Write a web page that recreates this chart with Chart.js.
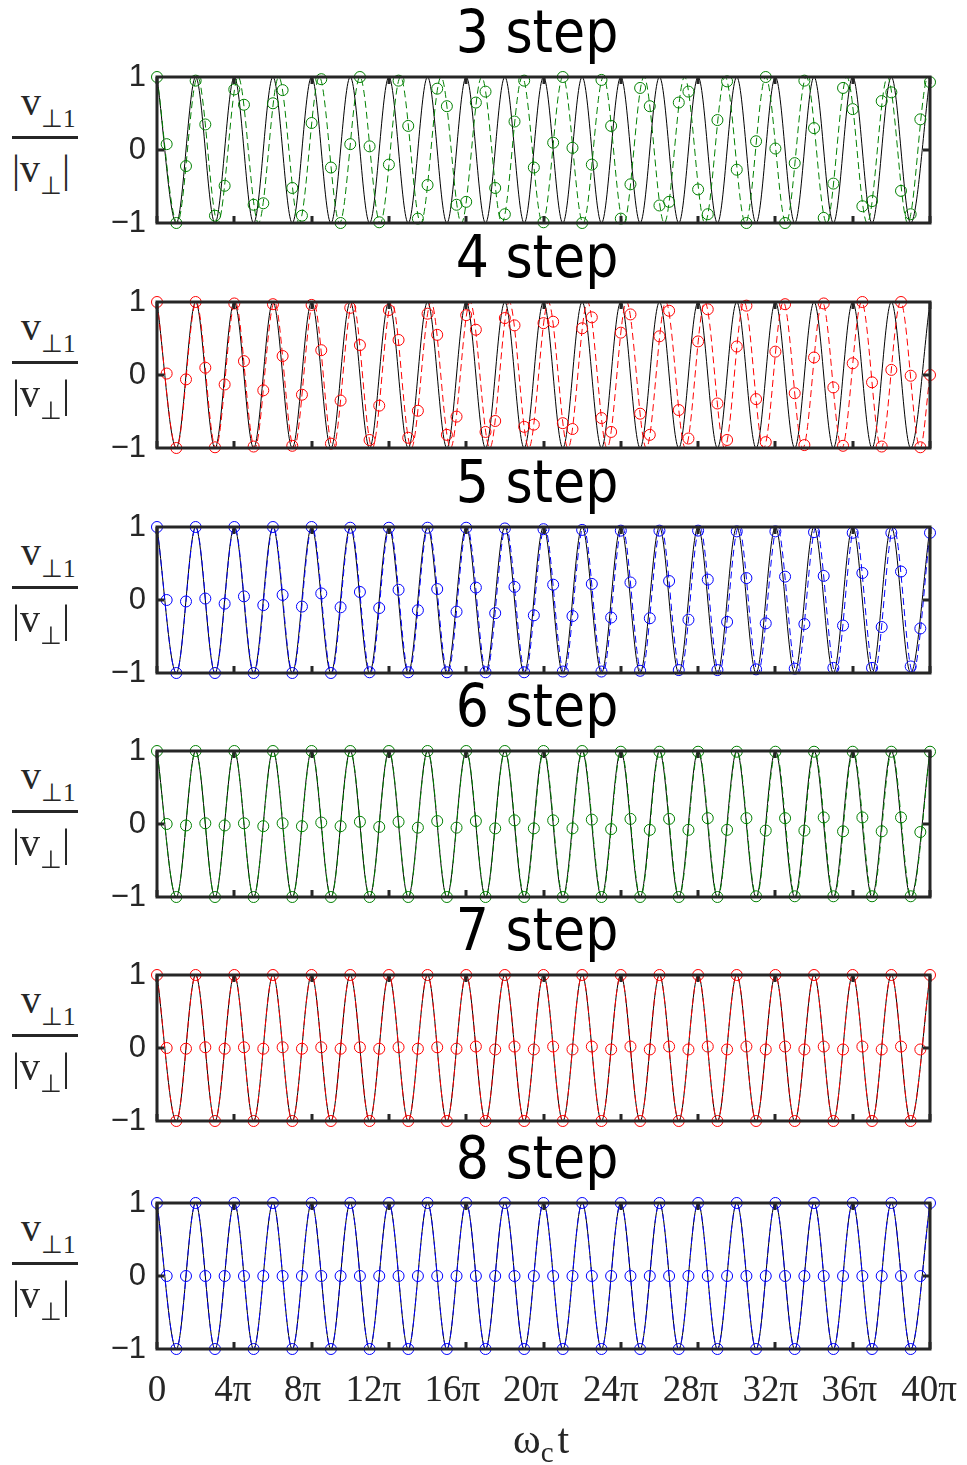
<!DOCTYPE html>
<html>
<head>
<meta charset="utf-8">
<script src="https://cdn.jsdelivr.net/npm/chart.js@4.4.1/dist/chart.umd.min.js"></script>
<style>
html,body{margin:0;padding:0;background:#fff;width:967px;height:1465px;overflow:hidden;}
body{position:relative;}
canvas{position:absolute;left:0;}
.title{position:absolute;left:0;width:1074px;text-align:center;font-family:'DejaVu Sans Condensed','DejaVu Sans',sans-serif;font-stretch:condensed;font-size:58px;line-height:58px;color:#000;white-space:nowrap;}
.frac{position:absolute;font-family:'Liberation Serif','Times New Roman',serif;font-size:40px;line-height:40px;color:#262626;white-space:nowrap;}
.sub{font-size:25px;vertical-align:-12px;}
.bar{position:absolute;left:12px;width:66px;height:3px;background:#262626;}
.xlab{position:absolute;font-family:'Liberation Serif','Times New Roman',serif;font-size:42px;line-height:42px;color:#262626;white-space:nowrap;}
.xlab .sub{font-size:29px;vertical-align:-9px;margin-right:4px;}
</style>
</head>
<body>
<script>
// ---------- data (t in units of pi) ----------
const panelTitles = ['3 step', '4 step', '5 step', '6 step', '7 step', '8 step'];
const tickValues = [0, 4, 8, 12, 16, 20, 24, 28, 32, 36, 40];
const tickLabels = ['0', '4π', '8π', '12π', '16π', '20π', '24π', '28π', '32π', '36π', '40π'];
// where the reference prints each tick label (it is not exactly under its tick)
const tickLabelPositions = [0, 3.92, 7.54, 11.2, 15.28, 19.35, 23.48, 27.61, 31.74, 35.82, 39.95];
const yTickValues = [-1, 0, 1];
const yTickLabels = ['−1', '0', '1'];

// exact solution: extrema of cos(ω_c t)
const exactT = [0,1,2,3,4,5,6,7,8,9,10,11,12,13,14,15,16,17,18,19,20,21,22,23,24,25,26,27,28,29,30,31,32,33,34,35,36,37,38,39,40];
const exactV = [1,-1,1,-1,1,-1,1,-1,1,-1,1,-1,1,-1,1,-1,1,-1,1,-1,1,-1,1,-1,1,-1,1,-1,1,-1,1,-1,1,-1,1,-1,1,-1,1,-1,1];

// numerical (dashed) curves: extrema positions
const line3T = [0,1.05,2.1,3.15,4.2,5.25,6.3,7.35,8.4,9.45,10.5,11.55,12.6,13.65,14.7,15.75,16.8,17.85,18.9,19.95,21,22.05,23.1,24.15,25.2,26.25,27.3,28.35,29.4,30.45,31.5,32.55,33.6,34.65,35.7,36.75,37.8,38.85,39.9,40];
const line3V = [1,-1,1,-1,1,-1,1,-1,1,-1,1,-1,1,-1,1,-1,1,-1,1,-1,1,-1,1,-1,1,-1,1,-1,1,-1,1,-1,1,-1,1,-1,1,-1,1,0.95];
const line4T = [0,1.01,2.03,3.04,4.05,5.06,6.08,7.09,8.1,9.11,10.13,11.14,12.15,13.16,14.18,15.19,16.2,17.22,18.23,19.24,20.25,21.27,22.28,23.29,24.3,25.32,26.33,27.34,28.35,29.37,30.38,31.39,32.41,33.42,34.43,35.44,36.46,37.47,38.48,39.49,40];
const line4V = [1,-1,1,-1,1,-1,1,-1,1,-1,1,-1,1,-1,1,-1,1,-1,1,-1,1,-1,1,-1,1,-1,1,-1,1,-1,1,-1,1,-1,1,-1,1,-1,1,-1,0];
const line5T = [0,1,2.01,3.01,4.01,5.02,6.02,7.02,8.03,9.03,10.03,11.04,12.04,13.04,14.04,15.05,16.05,17.05,18.06,19.06,20.06,21.07,22.07,23.07,24.08,25.08,26.08,27.09,28.09,29.09,30.1,31.1,32.1,33.11,34.11,35.11,36.11,37.12,38.12,39.12,40];
const line5V = [1,-1,1,-1,1,-1,1,-1,1,-1,1,-1,1,-1,1,-1,1,-1,1,-1,1,-1,1,-1,1,-1,1,-1,1,-1,1,-1,1,-1,1,-1,1,-1,1,-1,0.92];
const line6T = [0,1,2,3,4,5,6.01,7.01,8.01,9.01,10.01,11.01,12.01,13.01,14.01,15.01,16.01,17.01,18.01,19.02,20.02,21.02,22.02,23.02,24.02,25.02,26.02,27.02,28.02,29.02,30.02,31.02,32.03,33.03,34.03,35.03,36.03,37.03,38.03,39.03,40];
const line6V = [1,-1,1,-1,1,-1,1,-1,1,-1,1,-1,1,-1,1,-1,1,-1,1,-1,1,-1,1,-1,1,-1,1,-1,1,-1,1,-1,1,-1,1,-1,1,-1,1,-1,0.99];
const line7T = [0,1,2,3,4,5,6,7,8,9,10,11,12,13,14,15,16,17,18,19,20,21,22,23,24,25,26,27,28,29,30,31,32,33,34,35,36,37,38,39,40];
const line7V = [1,-1,1,-1,1,-1,1,-1,1,-1,1,-1,1,-1,1,-1,1,-1,1,-1,1,-1,1,-1,1,-1,1,-1,1,-1,1,-1,1,-1,1,-1,1,-1,1,-1,1];
const line8T = [0,1,2,3,4,5,6,7,8,9,10,11,12,13,14,15,16,17,18,19,20,21,22,23,24,25,26,27,28,29,30,31,32,33,34,35,36,37,38,39,40];
const line8V = [1,-1,1,-1,1,-1,1,-1,1,-1,1,-1,1,-1,1,-1,1,-1,1,-1,1,-1,1,-1,1,-1,1,-1,1,-1,1,-1,1,-1,1,-1,1,-1,1,-1,1];

// sampled values (circles), one every π/2
const step3 = [1.00,0.08,-1.00,-0.22,0.95,0.35,-0.90,-0.49,0.83,0.62,
 -0.75,-0.73,0.64,0.82,-0.52,-0.90,0.37,0.97,-0.24,-1.00,
 0.08,1.00,0.05,-0.99,-0.20,0.95,0.33,-0.94,-0.48,0.84,
 0.60,-0.75,-0.71,0.65,0.80,-0.52,-0.88,0.39,0.95,-0.24,
 -0.99,0.10,1.00,0.03,-1.00,-0.20,0.96,0.33,-0.94,-0.47,
 0.85,0.60,-0.76,-0.71,0.65,0.80,-0.54,-0.88,0.41,0.94,
 -0.27,-1.00,0.12,1.00,0.02,-1.00,-0.18,0.95,0.30,-0.93,
 -0.46,0.85,0.56,-0.77,-0.70,0.67,0.79,-0.56,-0.88,0.42,
 0.93];
const step4 = [1.00,0.02,-1.00,-0.06,1.00,0.10,-0.99,-0.13,0.98,0.19,
 -0.98,-0.21,0.97,0.26,-0.97,-0.27,0.96,0.34,-0.94,-0.35,
 0.92,0.41,-0.89,-0.42,0.89,0.48,-0.86,-0.49,0.84,0.55,
 -0.82,-0.57,0.82,0.62,-0.78,-0.63,0.78,0.68,-0.71,-0.68,
 0.71,0.73,-0.66,-0.74,0.64,0.79,-0.59,-0.78,0.58,0.83,
 -0.53,-0.82,0.53,0.88,-0.48,-0.87,0.46,0.90,-0.39,-0.89,
 0.39,0.95,-0.33,-0.92,0.32,0.97,-0.25,-0.96,0.24,0.98,
 -0.17,-0.97,0.16,1.00,-0.10,-0.98,0.07,1.00,-0.01,-0.99,
 0.00];
const step5 = [1.00,0.00,-1.00,-0.02,1.00,0.02,-1.00,-0.05,1.00,0.05,
 -1.00,-0.07,1.00,0.07,-1.00,-0.09,1.00,0.09,-1.00,-0.10,
 0.99,0.11,-0.99,-0.11,0.99,0.14,-0.99,-0.14,0.99,0.15,
 -0.99,-0.16,0.99,0.17,-0.99,-0.18,0.98,0.18,-0.99,-0.21,
 0.97,0.21,-0.98,-0.22,0.96,0.22,-0.98,-0.24,0.95,0.24,
 -0.97,-0.25,0.95,0.26,-0.96,-0.27,0.95,0.28,-0.96,-0.30,
 0.94,0.30,-0.95,-0.32,0.94,0.32,-0.94,-0.33,0.93,0.33,
 -0.93,-0.35,0.92,0.37,-0.93,-0.37,0.92,0.39,-0.91,-0.39,
 0.92];
const step6 = [1,0.00,-1,-0.02,1,0.01,-1,-0.02,1,0.01,
 -1,-0.03,1,0.01,-1,-0.03,1,0.02,-1,-0.03,
 1,0.03,-1,-0.04,1,0.03,-1,-0.05,1,0.04,
 -1,-0.05,1,0.04,-1,-0.06,1,0.05,-1,-0.06,
 1,0.05,-1,-0.06,1,0.06,-1,-0.07,0.99,0.07,
 -1,-0.08,0.99,0.07,-1,-0.08,0.99,0.08,-1,-0.08,
 0.99,0.08,-0.99,-0.09,0.99,0.08,-0.99,-0.09,0.99,0.09,
 -0.99,-0.10,0.99,0.09,-0.99,-0.10,0.99,0.09,-0.99,-0.11,
 0.99];
const step7 = [1,0.00,-1,-0.01,1,0.01,-1,-0.01,1,0.01,
 -1,-0.01,1,0.01,-1,-0.01,1,0.01,-1,-0.01,
 1,0.01,-1,-0.01,1,0.01,-1,-0.01,1,0.01,
 -1,-0.01,1,0.02,-1,-0.02,1,0.02,-1,-0.02,
 1,0.02,-1,-0.02,1,0.02,-1,-0.02,1,0.02,
 -1,-0.02,1,0.02,-1,-0.02,1,0.02,-1,-0.02,
 1,0.02,-1,-0.02,1,0.02,-1,-0.02,1,0.02,
 -1,-0.02,1,0.02,-1,-0.02,1,0.02,-1,-0.02,
 1];
const step8 = [1,0,-1,0,1,0,-1,0,1,0,
 -1,0,1,0,-1,0,1,0,-1,0,
 1,0,-1,0,1,0,-1,0,1,0,
 -1,0,1,0,-1,0,1,0,-1,0,
 1,0,-1,0,1,0,-1,0,1,0,
 -1,0,1,0,-1,0,1,0,-1,0,
 1,0,-1,0,1,0,-1,0,1,0,
 -1,0,1,0,-1,0,1,0,-1,0,
 1];
const sampleSpacing = 0.5; // π/2 between samples

// ---------- layout / style ----------
const markerSets = [step3, step4, step5, step6, step7, step8];
const lineTs = [line3T, line4T, line5T, line6T, line7T, line8T];
const lineVs = [line3V, line4V, line5V, line6V, line7V, line8V];
const seriesColors = ['#008000', '#ff0000', '#0000ff', '#008000', '#ff0000', '#0000ff'];
const plotTops = [77, 302, 527, 751, 975, 1203];
const plotHeight = 146;

const framePlugin = {
  id: 'matlabFrame',
  afterDatasetsDraw(chart) {
    const {ctx, chartArea: a, scales: {x, y}} = chart;
    ctx.save();
    ctx.strokeStyle = '#262626';
    ctx.lineWidth = 3;
    ctx.beginPath();
    tickValues.forEach(v => {
      const px = Math.round(x.getPixelForValue(v));
      ctx.moveTo(px, a.top); ctx.lineTo(px, a.top + 7);
      ctx.moveTo(px, a.bottom); ctx.lineTo(px, a.bottom - 7);
    });
    const py = y.getPixelForValue(0);
    ctx.moveTo(a.left, py); ctx.lineTo(a.left + 7, py);
    ctx.moveTo(a.right, py); ctx.lineTo(a.right - 7, py);
    ctx.stroke();
    ctx.strokeRect(a.left, a.top, a.right - a.left, a.bottom - a.top);
    ctx.restore();
  }
};

function pts(ts, vs) { return ts.map((t, i) => ({x: t, y: vs[i]})); }

const hiddenTicks = (len) => ({ display: true, drawOnChartArea: false, drawTicks: true,
                                tickLength: len, tickColor: 'rgba(0,0,0,0)' });

panelTitles.forEach((title, i) => {
  const top = plotTops[i];
  const last = i === panelTitles.length - 1;
  const padTop = 32;
  const padBottom = last ? 0 : 32;
  const xAxisH = last ? 80 : 0;
  const h = padTop + plotHeight + padBottom + xAxisH;
  const color = seriesColors[i];

  // title
  const t = document.createElement('div');
  t.className = 'title';
  t.style.top = (top - 74) + 'px';
  t.textContent = title;
  document.body.appendChild(t);

  // y label fraction
  const barY = top + 60;
  const num = document.createElement('div');
  num.className = 'frac';
  num.style.left = '21px';
  num.style.top = (barY - 55) + 'px';
  num.innerHTML = 'v<span class="sub">⊥1</span>';
  document.body.appendChild(num);
  const bar = document.createElement('div');
  bar.className = 'bar';
  bar.style.top = (barY - 1) + 'px';
  document.body.appendChild(bar);
  const den = document.createElement('div');
  den.className = 'frac';
  den.style.left = '12px';
  den.style.top = (barY + 12) + 'px';
  den.innerHTML = '|v<span class="sub">⊥</span>|';
  document.body.appendChild(den);

  const cv = document.createElement('canvas');
  cv.width = 967; cv.height = h;
  cv.style.top = (top - padTop) + 'px';
  cv.style.width = '967px'; cv.style.height = h + 'px';
  document.body.appendChild(cv);

  const samples = markerSets[i].map((v, k) => ({x: k * sampleSpacing, y: v}));

  new Chart(cv, {
    type: 'line',
    data: {
      datasets: [
        { label: title + ' samples', data: samples, showLine: false,
          pointStyle: 'circle', pointRadius: 5.5, pointBorderWidth: 1,
          pointBorderColor: color, pointBackgroundColor: 'rgba(0,0,0,0)',
          borderColor: color, clip: false, order: 0 },
        { label: title + ' numerical', data: pts(lineTs[i], lineVs[i]),
          borderColor: color, borderWidth: 1, borderDash: [7, 4], pointRadius: 0,
          cubicInterpolationMode: 'monotone', fill: false, clip: false, order: 1 },
        { label: 'exact', data: pts(exactT, exactV),
          borderColor: '#000', borderWidth: 1, pointRadius: 0,
          cubicInterpolationMode: 'monotone', fill: false, clip: false, order: 2 }
      ]
    },
    options: {
      responsive: false, animation: false, devicePixelRatio: 1, events: [],
      layout: { padding: { left: 0, right: 37, top: padTop, bottom: padBottom } },
      plugins: { legend: { display: false }, tooltip: { enabled: false }, title: { display: false } },
      scales: {
        x: {
          type: 'linear', min: 0, max: 40, display: last,
          afterBuildTicks: s => { s.ticks = tickLabelPositions.map(v => ({value: v})); },
          ticks: { autoSkip: false, maxRotation: 0, padding: 0, color: '#262626',
                   font: { family: "'Liberation Serif', serif", size: 37 },
                   callback: (v, idx) => tickLabels[idx] },
          grid: hiddenTicks(20), border: { display: false },
          afterFit: s => { s.height = xAxisH; }
        },
        y: {
          type: 'linear', min: -1, max: 1,
          afterBuildTicks: s => { s.ticks = yTickValues.map(v => ({value: v})); },
          ticks: { padding: 0, color: '#262626',
                   font: { family: "'Liberation Sans', Arial, sans-serif", size: 31 },
                   callback: (v, idx) => yTickLabels[idx] },
          grid: hiddenTicks(11), border: { display: false },
          afterFit: s => { s.width = 157; }
        }
      }
    },
    plugins: [framePlugin]
  });
});

// x-axis label
const xl = document.createElement('div');
xl.className = 'xlab';
xl.style.left = '513px';
xl.style.top = '1418px';
xl.innerHTML = 'ω<span class="sub">c</span>t';
document.body.appendChild(xl);
</script>
</body>
</html>
